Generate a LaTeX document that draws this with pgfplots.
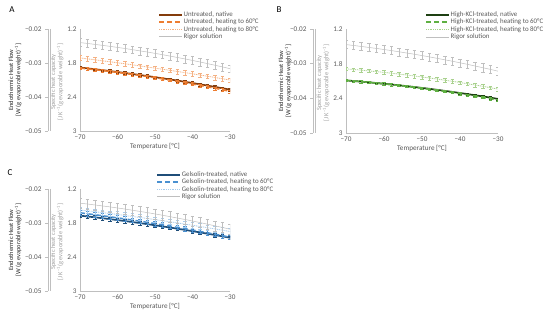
\documentclass[border=0pt]{standalone}
\usepackage{pgfplots}
\pgfplotsset{compat=1.18}
\usepackage{pgfplotstable}
\usepackage{fontspec}
\setmainfont{Carlito}
\definecolor{axgray}{HTML}{BFBFBF}
\definecolor{labgray}{HTML}{595959}
\definecolor{rig}{HTML}{BFBFBF}
\definecolor{brA}{HTML}{843C0C}
\definecolor{orA}{HTML}{ED7D31}
\definecolor{ltA}{HTML}{F4B183}
\definecolor{grB}{HTML}{1E4013}
\definecolor{mgB}{HTML}{5FB042}
\definecolor{ltB}{HTML}{A9D18E}
\definecolor{blC}{HTML}{1F4E79}
\definecolor{mbC}{HTML}{4A90D0}
\definecolor{ltC}{HTML}{A8CCEC}

\pgfplotstableread{
T nat h60 h80 rig
-70 1.880 1.890 1.710 1.440
-68 1.895 1.904 1.727 1.455
-66 1.910 1.918 1.744 1.472
-64 1.926 1.934 1.761 1.489
-62 1.942 1.950 1.778 1.506
-60 1.959 1.966 1.796 1.525
-58 1.976 1.984 1.814 1.544
-56 1.994 2.002 1.833 1.565
-54 2.012 2.020 1.852 1.586
-52 2.031 2.040 1.871 1.607
-50 2.050 2.060 1.890 1.630
-48 2.070 2.081 1.910 1.653
-46 2.090 2.102 1.930 1.678
-44 2.111 2.125 1.950 1.703
-42 2.132 2.148 1.970 1.728
-40 2.154 2.171 1.991 1.755
-38 2.176 2.196 2.012 1.782
-36 2.199 2.221 2.034 1.811
-34 2.222 2.246 2.056 1.840
-32 2.246 2.273 2.078 1.869
-30 2.270 2.300 2.100 1.900
}\tabA
\pgfplotstableread{
T nat h60 h80 rig
-70 2.090 2.090 1.890 1.470
-68 2.100 2.100 1.901 1.485
-66 2.111 2.111 1.912 1.502
-64 2.123 2.123 1.925 1.519
-62 2.135 2.136 1.938 1.536
-60 2.148 2.149 1.951 1.555
-58 2.161 2.163 1.966 1.574
-56 2.175 2.177 1.981 1.595
-54 2.189 2.192 1.996 1.616
-52 2.204 2.208 2.013 1.637
-50 2.220 2.225 2.030 1.660
-48 2.236 2.242 2.048 1.683
-46 2.253 2.260 2.066 1.708
-44 2.271 2.279 2.086 1.733
-42 2.289 2.299 2.106 1.758
-40 2.308 2.319 2.126 1.785
-38 2.327 2.340 2.148 1.812
-36 2.347 2.361 2.170 1.841
-34 2.367 2.383 2.192 1.870
-32 2.388 2.406 2.216 1.899
-30 2.410 2.430 2.240 1.930
}\tabB
\pgfplotstableread{
T nat h60 h80 rig
-70 1.670 1.620 1.570 1.450
-68 1.685 1.637 1.585 1.465
-66 1.700 1.654 1.601 1.482
-64 1.716 1.672 1.617 1.499
-62 1.732 1.690 1.633 1.516
-60 1.749 1.709 1.650 1.535
-58 1.766 1.728 1.667 1.554
-56 1.784 1.748 1.685 1.575
-54 1.802 1.768 1.703 1.596
-52 1.821 1.789 1.721 1.617
-50 1.840 1.810 1.740 1.640
-48 1.860 1.832 1.759 1.663
-46 1.880 1.854 1.779 1.688
-44 1.901 1.877 1.799 1.713
-42 1.922 1.900 1.819 1.738
-40 1.944 1.924 1.840 1.765
-38 1.966 1.948 1.861 1.792
-36 1.989 1.973 1.883 1.821
-34 2.012 1.998 1.905 1.850
-32 2.036 2.024 1.927 1.879
-30 2.060 2.050 1.950 1.910
}\tabC

\pgfplotsset{
  inner/.style={scale only axis, width=150pt, height=102pt, anchor=south west,
    xmin=-70, xmax=-30, ymin=1.2, ymax=3, y dir=reverse,
    xtick={-70,-60,-50,-40,-30}, xticklabels={−70,−60,−50,−40,−30},
    ytick={1.2,1.8,2.4,3}, yticklabels={1.2,1.8,2.4,3},
    axis x line*=bottom, axis y line*=left,
    axis line style={draw=axgray, line width=0.5pt, -},
    major tick length=0pt,
    tick label style={font=\fontsize{7.2}{8}\selectfont, text=labgray},
    xticklabel style={yshift=0pt},
    xlabel={Temperature [°C]},
    xlabel style={font=\fontsize{7.2}{8}\selectfont, text=labgray, yshift=3pt},
    legend cell align=left,
    legend style={draw=none, fill=none, anchor=north west,
      font=\fontsize{6.9}{7.3}\selectfont, text=labgray, row sep=-0.6pt,
      inner sep=0pt, nodes={inner sep=0.8pt}},
    legend image code/.code={\draw[##1] (0pt,0pt) -- (23pt,0pt);},
    error bars/error bar style={line width=0.35pt, solid},
    error bars/error mark options={rotate=90, mark size=1.8pt, line width=0.35pt, solid},
  },
  outer/.style={scale only axis, width=2pt, height=102pt, anchor=south west,
    xmin=0, xmax=1, ymin=-0.05, ymax=-0.02, hide x axis, scaled y ticks=false,
    ytick={-0.05,-0.04,-0.03,-0.02}, yticklabels={−0.05,−0.04,−0.03,−0.02},
    ytick pos=left, tick align=outside, major tick length=3pt,
    axis line style={draw=axgray, line width=0.5pt},
    tick style={draw=axgray, line width=0.5pt},
    tick label style={font=\fontsize{7.2}{8}\selectfont, text=labgray},
  },
  natst/.style={line width=1.7pt},
  h60st/.style={line width=1.5pt, dash pattern=on 5pt off 3pt},
  h80st/.style={line width=0.8pt, dash pattern=on 1pt off 0.8pt},
  rigst/.style={line width=0.5pt, color=rig},
}
\newcommand{\outerlabel}{Endothermic Heat Flow\\{}[W (g evaporable weight)\textsuperscript{−1}]}
\newcommand{\innerlabel}{Specific heat capacity\\{}[J K\textsuperscript{−1}(g evaporable weight)\textsuperscript{−1}]}

\begin{document}
\begin{tikzpicture}
\path[use as bounding box] (0pt,0pt) rectangle (550pt,321pt);
\tikzset{lab/.style={rotate=90, align=center, font=\fontsize{6.4}{7.2}\selectfont}}
% ---------------- Panel A
\node[font=\fontsize{9}{10}\selectfont] at (12pt,311pt) {A};
\node[lab, text=black!85] at (15pt,241pt) {\outerlabel};
\node[lab, text=gray!75] at (57pt,239pt) {\innerlabel};
\begin{axis}[outer, at={(48pt,190pt)}]
\addplot[draw=none] coordinates {(0.5,-0.03)};
\end{axis}
\begin{axis}[inner, at={(80pt,190pt)}, legend style={at={(0.52,1.18)}}]
\addplot[natst, color=brA, error bars/.cd, y dir=both, y fixed=0.025] table[x=T,y=nat] {\tabA};
\addlegendentry{Untreated, native}
\addplot[h60st, color=orA, error bars/.cd, y dir=both, y fixed=0.025] table[x=T,y=h60] {\tabA};
\addlegendentry{Untreated, heating to 60°C}
\addplot[h80st, color=ltA, error bars/.cd, y dir=both, y fixed=0.04] table[x=T,y=h80] {\tabA};
\addlegendentry{Untreated, heating to 80°C}
\addplot[rigst, error bars/.cd, y dir=both, y fixed=0.07] table[x=T,y=rig] {\tabA};
\addlegendentry{Rigor solution}
\end{axis}
% ---------------- Panel B
\node[font=\fontsize{9}{10}\selectfont] at (279pt,311pt) {B};
\node[lab, text=black!85] at (285pt,240pt) {\outerlabel};
\node[lab, text=gray!75] at (323pt,238pt) {\innerlabel};
\begin{axis}[outer, height=104pt, at={(313pt,188pt)}]
\addplot[draw=none] coordinates {(0.5,-0.03)};
\end{axis}
\begin{axis}[inner, width=152pt, height=104pt, at={(346pt,188pt)}, legend style={at={(0.52,1.175)}}]
\addplot[natst, color=grB, error bars/.cd, y dir=both, y fixed=0.02] table[x=T,y=nat] {\tabB};
\addlegendentry{High-KCl-treated, native}
\addplot[h60st, color=mgB, error bars/.cd, y dir=both, y fixed=0.02] table[x=T,y=h60] {\tabB};
\addlegendentry{High-KCl-treated, heating to 60°C}
\addplot[h80st, color=ltB, error bars/.cd, y dir=both, y fixed=0.03] table[x=T,y=h80] {\tabB};
\addlegendentry{High-KCl-treated, heating to 80°C}
\addplot[rigst, error bars/.cd, y dir=both, y fixed=0.07] table[x=T,y=rig] {\tabB};
\addlegendentry{Rigor solution}
\end{axis}
% ---------------- Panel C
\node[font=\fontsize{9}{10}\selectfont] at (10pt,148pt) {C};
\node[lab, text=black!85] at (15pt,81pt) {\outerlabel};
\node[lab, text=gray!75] at (57pt,79pt) {\innerlabel};
\begin{axis}[outer, at={(48pt,30pt)}]
\addplot[draw=none] coordinates {(0.5,-0.03)};
\end{axis}
\begin{axis}[inner, at={(80pt,30pt)}, legend style={at={(0.507,1.18)}}]
\addplot[natst, color=blC, error bars/.cd, y dir=both, y fixed=0.03] table[x=T,y=nat] {\tabC};
\addlegendentry{Gelsolin-treated, native}
\addplot[h60st, color=mbC, error bars/.cd, y dir=both, y fixed=0.04] table[x=T,y=h60] {\tabC};
\addlegendentry{Gelsolin-treated, heating to 60°C}
\addplot[h80st, color=ltC, error bars/.cd, y dir=both, y fixed=0.05] table[x=T,y=h80] {\tabC};
\addlegendentry{Gelsolin-treated, heating to 80°C}
\addplot[rigst, error bars/.cd, y dir=both, y fixed=0.09] table[x=T,y=rig] {\tabC};
\addlegendentry{Rigor solution}
\end{axis}
\end{tikzpicture}
\end{document}
